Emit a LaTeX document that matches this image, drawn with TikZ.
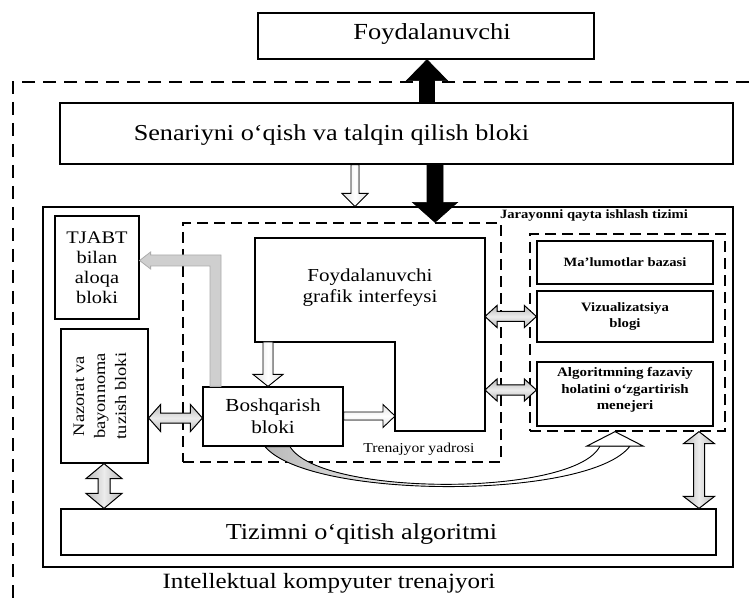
\documentclass[tikz,border=0pt]{standalone}
\usepackage{fontspec}
\setmainfont{Liberation Serif}[FakeStretch=1.15]
\usetikzlibrary{calc}
\newcommand\fsz[2]{\fontsize{#1pt}{#2pt}\selectfont}
% single block arrow: [style]{from}{to}{half shaft}{half head}{head length}
\newcommand\sarrow[6][]{%
 \filldraw[#1] let \p1=(#2), \p2=(#3), \n1={atan2(\y2-\y1,\x2-\x1)}, \n2={veclen(\x2-\x1,\y2-\y1)} in
  ($(\p1)+(\n1+90:#4)$) -- ($(\p1)+(\n1:{\n2-#6})+(\n1+90:#4)$) -- ($(\p1)+(\n1:{\n2-#6})+(\n1+90:#5)$) -- (\p2)
  -- ($(\p1)+(\n1:{\n2-#6})+(\n1-90:#5)$) -- ($(\p1)+(\n1:{\n2-#6})+(\n1-90:#4)$) -- ($(\p1)+(\n1-90:#4)$) -- cycle;}
% double block arrow
\newcommand\darrow[6][]{%
 \filldraw[#1] let \p1=(#2), \p2=(#3), \n1={atan2(\y2-\y1,\x2-\x1)}, \n2={veclen(\x2-\x1,\y2-\y1)} in
  (\p1) -- ($(\p1)+(\n1:#6)+(\n1+90:#5)$) -- ($(\p1)+(\n1:#6)+(\n1+90:#4)$) -- ($(\p1)+(\n1:{\n2-#6})+(\n1+90:#4)$)
  -- ($(\p1)+(\n1:{\n2-#6})+(\n1+90:#5)$) -- (\p2) -- ($(\p1)+(\n1:{\n2-#6})+(\n1-90:#5)$) -- ($(\p1)+(\n1:{\n2-#6})+(\n1-90:#4)$)
  -- ($(\p1)+(\n1:#6)+(\n1-90:#4)$) -- ($(\p1)+(\n1:#6)+(\n1-90:#5)$) -- cycle;}
\tikzset{
 box/.style={draw, line width=1.2pt, fill=white, inner sep=0pt},
 dbox/.style={draw, line width=1.3pt, dash pattern=on 11pt off 6pt, inner sep=0pt},
 odash/.style={draw, line width=1.4pt, dash pattern=on 13pt off 8pt},
 txt/.style={inner sep=0pt, align=center},
 blk/.style={draw=black, fill=black, line width=0.6pt},
 holv/.style={draw=black, line width=0.9pt, left color=gray!25, right color=gray!25, middle color=white},
 holh/.style={draw=black, line width=0.9pt, top color=gray!25, bottom color=gray!25, middle color=white},
 garh/.style={draw=black, line width=1pt, top color=gray!55, bottom color=gray!55, middle color=gray!15},
 garv/.style={draw=black, line width=1pt, left color=gray!55, right color=gray!55, middle color=gray!15},
 garL/.style={draw=gray!65, line width=0.8pt, fill=gray!38},
 headw/.style={draw=black, line width=1pt, fill=white},
 curv/.style={draw=black, line width=0.9pt, left color=gray!55, right color=white, middle color=white},
}
\begin{document}
\begin{tikzpicture}[x=1pt,y=1pt]
\useasboundingbox (0,0) rectangle (751,597);
% outer dashed frame
\draw[odash] (770,515) -- (13,515) -- (13,-20);
% top boxes
\node[box, minimum width=336pt, minimum height=46pt] (foyd) at (426,561) {};
\node[txt, anchor=base, font=\fsz{23}{27}] (foydT) at (432,557) {Foydalanuvchi};
\node[box, minimum width=673pt, minimum height=61pt] (sen) at (396.5,463.5) {};
\node[txt, anchor=base, font=\fsz{22.8}{27}] (senT) at (331.5,456) {Senariyni o‘qish va talqin qilish bloki};
% main frame
\node[box, minimum width=690pt, minimum height=360pt] (main) at (388,210) {};
\node[txt, anchor=base, font=\fsz{21.8}{26}] (intT) at (329,9) {Intellektual kompyuter trenajyori};
% dashed sub-frames
\node[dbox, minimum width=318pt, minimum height=239pt] (tre) at (342,254.5) {};
\node[txt, anchor=base, font=\fsz{13.6}{16}] (treT) at (419,145) {Trenajyor yadrosi};
\node[dbox, minimum width=195pt, minimum height=197pt] (jar) at (627.5,264.5) {};
\node[txt, anchor=base, font=\bfseries\fsz{12.7}{15}] (jarT) at (594,378) {Jarayonni qayta ishlash tizimi};
% GUI L-shape
\coordinate (gA) at (255,359); \coordinate (gB) at (485,359); \coordinate (gC) at (485,166);
\coordinate (gD) at (395,166); \coordinate (gE) at (395,255); \coordinate (gF) at (255,255);
\filldraw[draw=black, line width=1.2pt, fill=white] (gA) -- (gB) -- (gC) -- (gD) -- (gE) -- (gF) -- cycle;
\node[txt, font=\fsz{18.3}{21}] (gui) at (370,309) {Foydalanuvchi\\grafik interfeysi};
% blocks
\node[box, minimum width=140pt, minimum height=59pt, align=center, font=\fsz{18.4}{22}] (bosh) at (273,180.5) {Boshqarish\\bloki};
\node[box, minimum width=84pt, minimum height=103pt, align=center, font=\fsz{17.7}{20}] (tjabt) at (97,329.5) {TJABT\\bilan\\aloqa\\bloki};
\node[box, minimum width=87pt, minimum height=134pt] (naz) at (104.5,201) {};
\node[txt, rotate=90, font=\fsz{16}{21}] (nazT) at (100,201) {Nazorat va\\bayonnoma\\tuzish bloki};
\node[box, minimum width=655pt, minimum height=46pt] (tiz) at (388.5,65) {};
\node[txt, anchor=base, font=\fsz{22.8}{27}] (tizT) at (361.5,57.5) {Tizimni o‘qitish algoritmi};
\node[box, minimum width=176pt, minimum height=43pt, font=\bfseries\fsz{12.7}{16}] (mal) at (625,334.5) {Ma’lumotlar bazasi};
\node[box, minimum width=176pt, minimum height=51pt, align=center, font=\bfseries\fsz{12.8}{16}] (viz) at (625,280.5) {Vizualizatsiya\\blogi};
\node[box, minimum width=176pt, minimum height=64pt] (alg) at (625,203) {};
\node[txt, font=\bfseries\fsz{13}{16.5}] (algT) at (625,207) {Algoritmning fazaviy\\holatini o‘zgartirish\\menejeri};
% arrows
\coordinate (xa) at (427,0);
\sarrow[blk]{xa |- sen.north}{xa |- foyd.south}{7.5}{20.5}{21}
\coordinate (xb) at (435,0);
\sarrow[blk]{xb |- sen.south}{xb |- tre.north}{8}{22.5}{20}
\coordinate (xc) at (355,0);
\sarrow[holv]{xc |- sen.south}{xc |- main.north}{4}{13}{13}
\coordinate (xd) at (268,0);
\sarrow[holv]{xd |- gF}{xd |- bosh.north}{5}{15}{12}
\coordinate (ye) at (0,181);
\sarrow[holh]{bosh.east |- ye}{gD |- ye}{4}{11.5}{12}
\coordinate (yf) at (0,179);
\darrow[garh]{naz.east |- yf}{bosh.west |- yf}{5}{13.5}{12}
\coordinate (xg) at (104,0);
\darrow[garv]{xg |- naz.south}{xg |- tiz.north}{6}{18}{15}
\darrow[garh]{gB |- viz.west}{viz.west}{5}{11}{12}
\coordinate (yh) at (0,207);
\darrow[garh]{gB |- yh}{alg.west |- yh}{5}{11}{12}
\coordinate (xi) at (699,0);
\darrow[garv]{xi |- jar.south}{xi |- tiz.north}{5.5}{15.5}{12}
% gray L arrow Boshqarish -> TJABT
\coordinate (Lb) at (215.5,0); \coordinate (Lt) at (0,336.5);
\filldraw[garL] ($(Lb |- bosh.north)+(-5.5,0)$) -- ($(Lb |- Lt)+(-5.5,-5.5)$) -- ($(tjabt.east |- Lt)+(11,-5.5)$)
  -- ($(tjabt.east |- Lt)+(11,-8.5)$) -- (tjabt.east |- Lt) -- ($(tjabt.east |- Lt)+(11,8.5)$)
  -- ($(tjabt.east |- Lt)+(11,5.5)$) -- ($(Lb |- Lt)+(5.5,5.5)$) -- ($(Lb |- bosh.north)+(5.5,0)$) -- cycle;
% curved arrow Boshqarish -> Jarayonni
\coordinate (cs1) at ($(bosh.south)+(-8,0)$);
\coordinate (cs2) at ($(bosh.south)+(17,0)$);
\coordinate (ct) at (615,0);
\filldraw[curv] (cs1) .. controls (310,97) and (590,97) .. (630,151) -- (600,151)
  .. controls (575,100) and (320,100) .. (cs2) -- cycle;
\filldraw[headw] (587,151) -- (ct |- jar.south) -- (643,151) -- cycle;
\end{tikzpicture}
\end{document}
